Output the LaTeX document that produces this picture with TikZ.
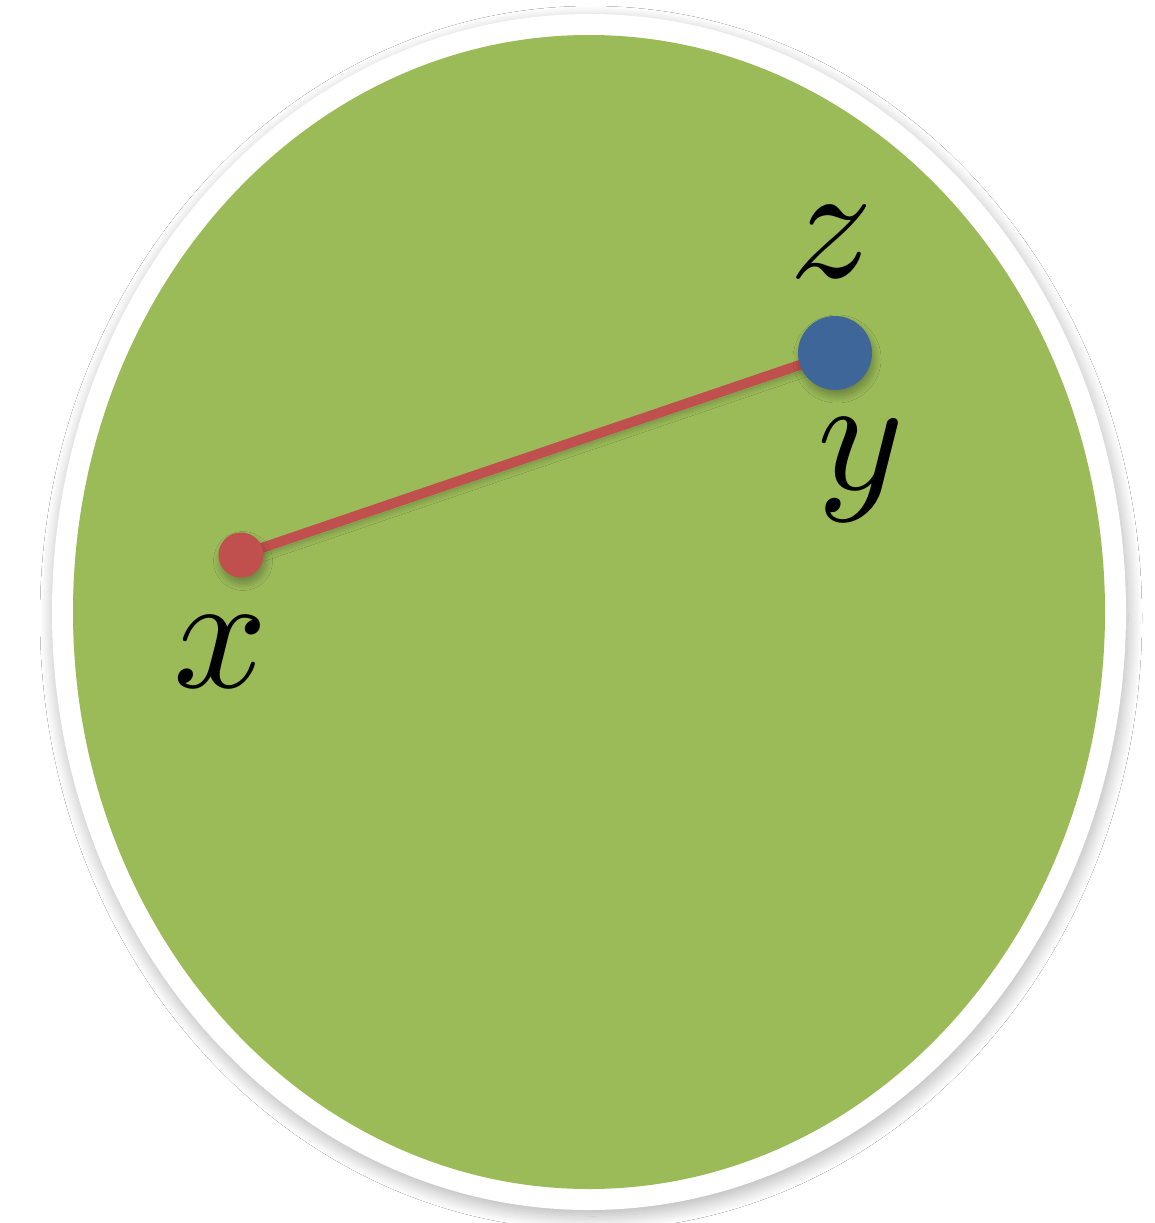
\documentclass[tikz,border=0pt]{standalone}
\usepackage{graphicx}
\usetikzlibrary{shadows.blur}
\definecolor{olive}{HTML}{9BBB59}
\definecolor{dotred}{HTML}{C0504D}
\definecolor{dotblue}{HTML}{3F6698}
\newcommand{\biglbl}[1]{\scalebox{16.5}{$#1$}}
\tikzset{
  lbl/.style={inner sep=0pt, anchor=base},
  softshadow/.style={blur shadow={shadow xshift=2pt, shadow yshift=-6pt, shadow blur radius=7pt, shadow blur steps=12, shadow opacity=30}},
  dot/.style={circle, inner sep=0pt, softshadow}
}
\begin{document}
\begin{tikzpicture}[x=1pt, y=-1pt]
\useasboundingbox (0,0) rectangle (1154,1223);
\fill[white] (0,0) rectangle (1154,1223);
% outer white ring with shadow
\fill[white, blur shadow={shadow xshift=2pt, shadow yshift=-6pt, shadow blur radius=14pt, shadow blur steps=20, shadow opacity=30}]
  (589,612) ellipse [x radius=537, y radius=598];
\fill[olive] (589,612) ellipse [x radius=516, y radius=577];
% points
\coordinate (px) at (241,555);
\coordinate (pz) at (835,353);
\draw[dotred, line width=10pt, softshadow] (px) -- (pz);
\node[dot, fill=dotred, minimum size=45pt] (x) at (px) {};
\node[dot, fill=dotblue, minimum size=74pt] (z) at (pz) {};
% labels
\node[lbl] (lx) at (221,687) {\biglbl{x}};
\node[lbl] (lz) at (831,277) {\biglbl{z}};
\node[lbl] (ly) at (861,489) {\biglbl{y}};
\end{tikzpicture}
\end{document}
